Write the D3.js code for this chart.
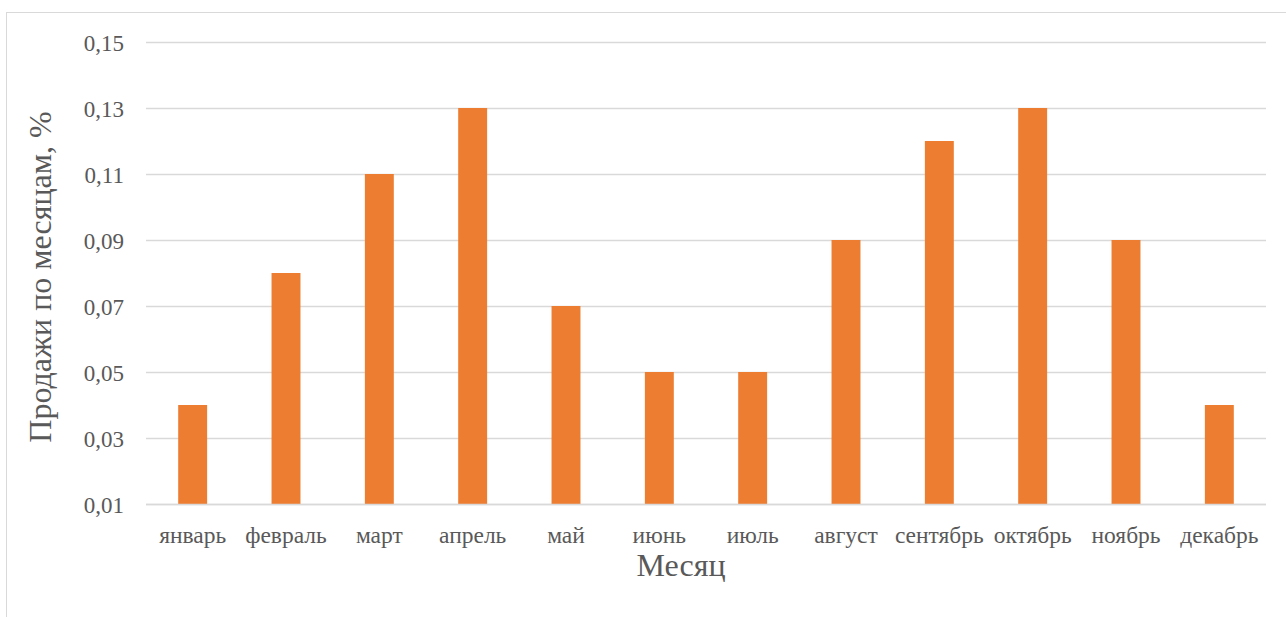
<!DOCTYPE html>
<html>
<head>
<meta charset="utf-8">
<script src="https://cdn.jsdelivr.net/npm/d3@7"></script>
<style>
  html, body { margin: 0; padding: 0; background: #fff; }
  svg { display: block; }
</style>
</head>
<body>
<svg id="chart" width="1286" height="617"></svg>
<script>
// Monthly sales share
const months = ["январь", "февраль", "март", "апрель", "май", "июнь",
                "июль", "август", "сентябрь", "октябрь", "ноябрь", "декабрь"];
const sales = [0.04, 0.08, 0.11, 0.13, 0.07, 0.05, 0.05, 0.09, 0.12, 0.13, 0.09, 0.04];
const yTicks = [0.01, 0.03, 0.05, 0.07, 0.09, 0.11, 0.13, 0.15];
const yTitle = "Продажи по месяцам, %";
const xTitle = "Месяц";

const FONT = "'Liberation Serif', 'Times New Roman', serif";
const INK = "#595959";
const svg = d3.select("#chart");
const W = 1286, H = 617;
const plot = { left: 146, right: 1266, top: 42, bottom: 504 };

// outer frame
svg.append("rect")
  .attr("x", 6.5).attr("y", 12.5)
  .attr("width", W + 10).attr("height", H + 10)
  .attr("fill", "none").attr("stroke", "#d9d9d9").attr("stroke-width", 1);

const x = d3.scaleBand().domain(months).range([plot.left, plot.right]).paddingInner(0.69).paddingOuter(0.345);
const y = d3.scaleLinear().domain([0.01, 0.15]).range([plot.bottom, plot.top]);
const fmt = d => d3.format(".2f")(d).replace(".", ",");

// gridlines
svg.append("g")
  .selectAll("line")
  .data(yTicks)
  .join("line")
  .attr("x1", plot.left).attr("x2", plot.right)
  .attr("y1", d => Math.round(y(d)) + 0.5).attr("y2", d => Math.round(y(d)) + 0.5)
  .attr("stroke", "#d9d9d9").attr("stroke-width", 1.3);

// bars
svg.append("g")
  .selectAll("rect")
  .data(months.map((m, i) => ({ m, v: sales[i] })))
  .join("rect")
  .attr("x", d => x(d.m))
  .attr("width", x.bandwidth())
  .attr("y", d => y(d.v))
  .attr("height", d => y(0.01) - y(d.v))
  .attr("fill", "#ED7D31");

// y axis labels
const yAxis = d3.axisLeft(y).tickValues(yTicks).tickFormat(fmt).tickSize(0).tickPadding(22);
const gy = svg.append("g").attr("transform", `translate(${plot.left},0)`).call(yAxis);
gy.attr("font-family", FONT).attr("font-size", 23);
gy.select(".domain").remove();
gy.selectAll("text").attr("fill", INK).attr("dy", "0.36em");

// x axis labels
const xAxis = d3.axisBottom(x).tickSize(0).tickPadding(22);
const gx = svg.append("g").attr("transform", `translate(0,${plot.bottom})`).call(xAxis);
gx.attr("font-family", FONT).attr("font-size", 23.5);
gx.select(".domain").remove();
gx.selectAll("text").attr("fill", INK);

// baseline
svg.append("line")
  .attr("x1", plot.left).attr("x2", plot.right)
  .attr("y1", plot.bottom + 0.5).attr("y2", plot.bottom + 0.5)
  .attr("stroke", "#d9d9d9").attr("stroke-width", 1.3);

// axis titles
svg.append("text")
  .attr("transform", `translate(51,${(plot.top + plot.bottom) / 2 + 4}) rotate(-90)`)
  .attr("text-anchor", "middle")
  .attr("font-family", FONT).attr("font-size", 32).attr("fill", INK)
  .text(yTitle);

svg.append("text")
  .attr("x", 681)
  .attr("y", 576)
  .attr("text-anchor", "middle")
  .attr("font-family", FONT).attr("font-size", 32).attr("fill", INK)
  .text(xTitle);
</script>
</body>
</html>
